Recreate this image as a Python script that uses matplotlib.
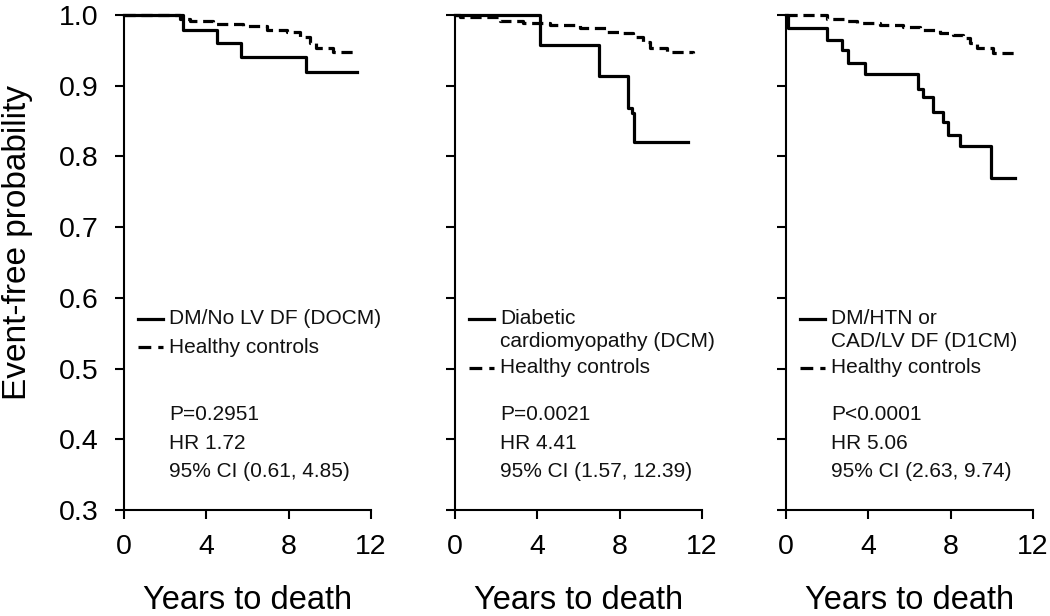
import matplotlib
matplotlib.use("Agg")
import matplotlib.pyplot as plt

plt.rcParams["font.family"] = ["Liberation Sans", "DejaVu Sans"]

# Kaplan-Meier curves (years, event-free probability)
dcm0_t = [0, 2.88, 4.53, 5.66, 8.82, 11.3]
dcm0_s = [1.0, 0.979, 0.960, 0.941, 0.919, 0.919]
ctrl1_t = [0, 2.7, 3.2, 4.34, 5.79, 6.93, 7.9, 8.54, 9.03, 9.35, 10.16, 11.3]
ctrl1_s = [1.0, 0.995, 0.992, 0.987, 0.984, 0.979, 0.976, 0.969, 0.960, 0.953, 0.947, 0.947]

dcm_t = [0, 4.13, 7.0, 8.41, 8.6, 8.7, 11.3]
dcm_s = [1.0, 0.957, 0.914, 0.868, 0.862, 0.820, 0.820]
ctrl2_t = [0, 0.24, 2.18, 3.32, 4.61, 6.07, 7.36, 8.01, 8.66, 9.14, 9.47, 10.28, 11.57]
ctrl2_s = [1.0, 0.997, 0.992, 0.989, 0.986, 0.981, 0.976, 0.974, 0.969, 0.962, 0.953, 0.947, 0.946]

d1cm_t = [0, 0.1, 1.97, 2.70, 3.03, 3.83, 6.42, 6.67, 7.15, 7.64, 7.88, 8.45, 9.94, 11.12]
d1cm_s = [1.0, 0.981, 0.965, 0.950, 0.932, 0.917, 0.896, 0.884, 0.863, 0.849, 0.830, 0.815, 0.769, 0.769]
ctrl3_t = [0, 1.33, 1.97, 2.94, 3.43, 4.56, 5.70, 6.50, 7.48, 8.12, 8.61, 8.93, 9.26, 10.06, 11.2]
ctrl3_s = [1.0, 1.0, 0.994, 0.991, 0.989, 0.986, 0.983, 0.979, 0.975, 0.972, 0.967, 0.961, 0.953, 0.946, 0.945]

group_labels = [
    ["DM/No LV DF (DOCM)"],
    ["Diabetic", "cardiomyopathy (DCM)"],
    ["DM/HTN or", "CAD/LV DF (D1CM)"],
]
control_label = "Healthy controls"
p_values = ["P=0.2951", "P=0.0021", "P<0.0001"]
hazard_ratios = ["HR 1.72", "HR 4.41", "HR 5.06"]
conf_ints = ["95% CI (0.61, 4.85)", "95% CI (1.57, 12.39)", "95% CI (2.63, 9.74)"]

x_ticks = [0, 4, 8, 12]
y_ticks = [0.3, 0.4, 0.5, 0.6, 0.7, 0.8, 0.9, 1.0]

panels = [
    (dcm0_t, dcm0_s, ctrl1_t, ctrl1_s),
    (dcm_t, dcm_s, ctrl2_t, ctrl2_s),
    (d1cm_t, d1cm_s, ctrl3_t, ctrl3_s),
]

fig = plt.figure(figsize=(10.5, 6.16), dpi=100)
lefts = [124, 455, 786]
LW = 2.3
DASH = (0, (3.5, 1.8))

for i, (gt, gs, ct, cs) in enumerate(panels):
    ax = fig.add_axes([lefts[i] / 1050, 106 / 616, 247 / 1050, 495 / 616])
    ax.step(ct, cs, where="post", color="black", lw=LW, linestyle=DASH, clip_on=False)
    ax.step(gt, gs, where="post", color="black", lw=LW, clip_on=False)

    ax.set_xlim(0, 12)
    ax.set_ylim(0.3, 1.0)
    ax.set_xticks(x_ticks)
    ax.set_yticks(y_ticks)
    for side in ["top", "right"]:
        ax.spines[side].set_visible(False)
    for side in ["left", "bottom"]:
        ax.spines[side].set_linewidth(1.5)
    ax.tick_params(direction="out", length=6.5, width=1.5, labelsize=20.5, colors="black")
    ax.tick_params(axis="x", pad=11)
    ax.tick_params(axis="y", pad=12)
    if i == 0:
        ax.set_yticklabels([f"{v:.1f}" for v in y_ticks])
        ax.set_ylabel("Event-free probability", fontsize=24)
        ax.yaxis.set_label_coords(-0.37, 0.54)
    else:
        ax.set_yticklabels([])
    ax.set_xlabel("Years to death", fontsize=23.5, va="baseline")
    ax.xaxis.set_label_coords(0.5, -0.2)

    # legend drawn by hand so the handle sits on the first label line
    fs = 15
    lines = group_labels[i]
    y0 = 0.386
    ax.plot([0.058, 0.158], [y0, y0], transform=ax.transAxes, color="black", lw=LW, clip_on=False)
    step = 0.046
    for k, txt in enumerate(lines):
        ax.text(0.182, y0 - k * step, txt, transform=ax.transAxes, fontsize=fs,
                va="center", ha="left", color="#111111")
    yc = 0.329 if len(lines) == 1 else 0.287
    ax.plot([0.058, 0.158], [yc, yc], transform=ax.transAxes, color="black", lw=LW,
            linestyle=(0, (4.0, 2.2)), clip_on=False)
    ax.text(0.182, yc, control_label, transform=ax.transAxes, fontsize=fs,
            va="center", ha="left", color="#111111")

    for k, txt in enumerate([p_values[i], hazard_ratios[i], conf_ints[i]]):
        ax.text(0.182, 0.192 - k * 0.0575, txt, transform=ax.transAxes, fontsize=fs,
                va="center", ha="left", color="#111111")

fig.savefig("out.png", dpi=100)
